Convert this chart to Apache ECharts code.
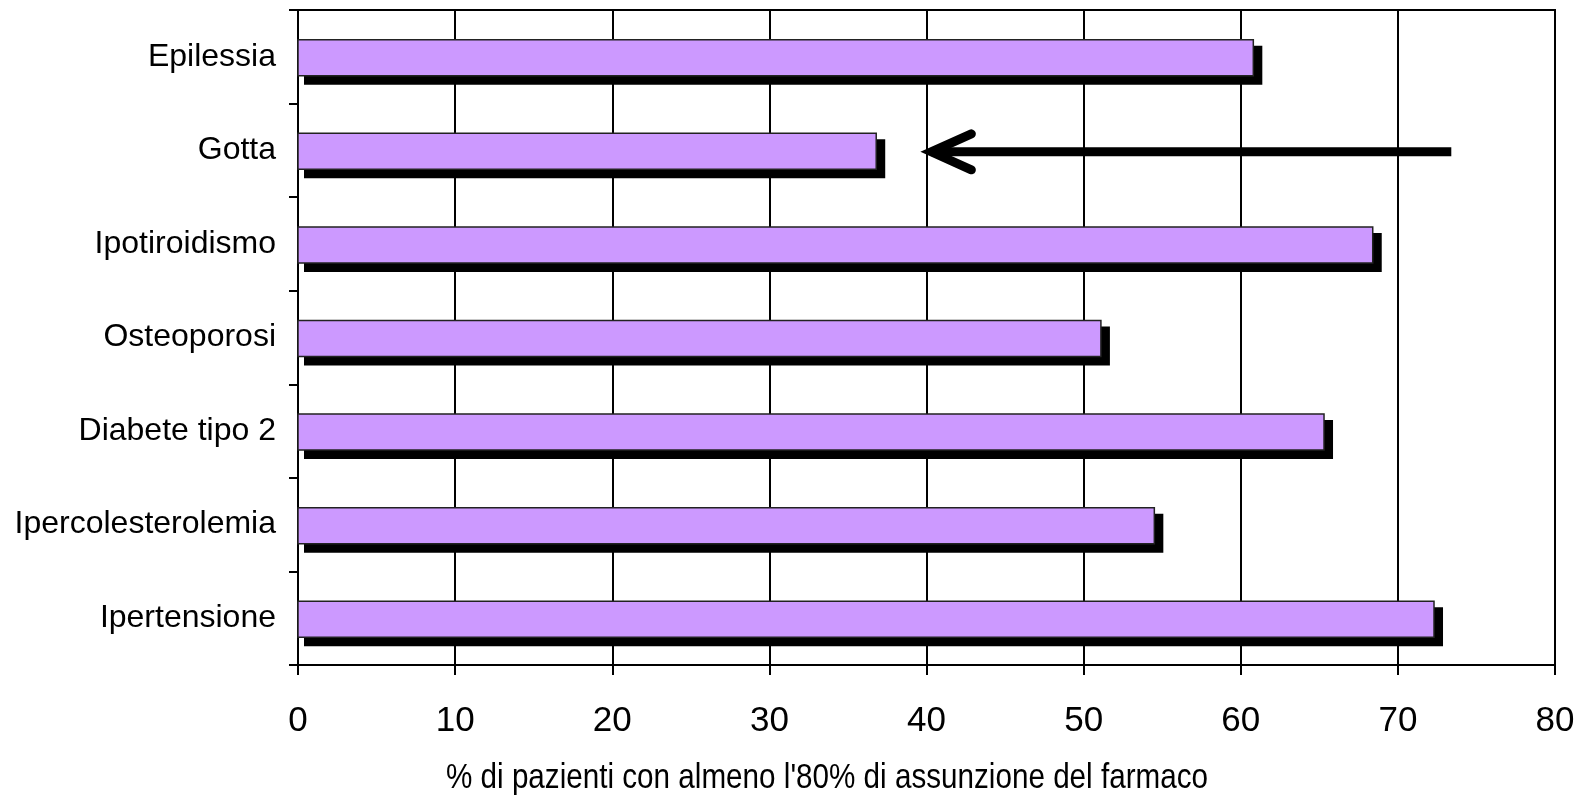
<!DOCTYPE html>
<html>
<head>
<meta charset="utf-8">
<script src="https://cdn.jsdelivr.net/npm/echarts@6/dist/echarts.min.js"></script>
<style>html,body{margin:0;padding:0;background:#fff}#c{width:1582px;height:797px}</style>
</head>
<body>
<div id="c"></div>
<script>
var categories = ['Ipertensione', 'Ipercolesterolemia', 'Diabete tipo 2', 'Osteoporosi', 'Ipotiroidismo', 'Gotta', 'Epilessia'];
var values = [72.3, 54.5, 65.3, 51.1, 68.4, 36.8, 60.8];
var xTicks = [0, 10, 20, 30, 40, 50, 60, 70, 80];
var arrowFrom = 73.4;
var arrowTo = 39.8;
var arrowCategory = 'Gotta';
var axisTitle = "% di pazienti con almeno l'80% di assunzione del farmaco";

var chart = echarts.init(document.getElementById('c'), null, {renderer: 'canvas'});
var font = 'Liberation Sans, Arial, sans-serif';
var barData = values.map(function (v, i) { return [v, i]; });
chart.setOption({
  animation: false,
  backgroundColor: '#fff',
  grid: {left: 298, right: 27, top: 10, bottom: 132, show: true, borderColor: '#000', borderWidth: 2, containLabel: false},
  xAxis: {
    type: 'value', min: xTicks[0], max: xTicks[xTicks.length - 1], interval: 10,
    axisLine: {show: true, lineStyle: {color: '#000', width: 2}},
    axisTick: {show: true, length: 10, lineStyle: {color: '#000', width: 2}},
    axisLabel: {fontFamily: font, fontSize: 35, color: '#000', margin: 39},
    splitLine: {show: true, lineStyle: {color: '#000', width: 2}}
  },
  yAxis: {
    type: 'category', data: categories,
    axisLine: {show: true, lineStyle: {color: '#000', width: 2}},
    axisTick: {show: true, length: 9, lineStyle: {color: '#000', width: 2}},
    axisLabel: {fontFamily: font, fontSize: 32, color: '#000', margin: 22, padding: [4, 0, 0, 0]},
    splitLine: {show: false}
  },
  graphic: [{
    type: 'text',
    x: 827, y: 778,
    scaleX: 0.847,
    style: {text: axisTitle, font: '35px Liberation Sans, Arial, sans-serif', fill: '#000', textAlign: 'center', textVerticalAlign: 'middle'}
  }],
  series: [{
    type: 'custom',
    data: barData,
    encode: {x: 0, y: 1},
    z: 3,
    renderItem: function (params, api) {
      var start = api.coord([0, api.value(1)]);
      var end = api.coord([api.value(0), api.value(1)]);
      var h = 36;
      var y0 = start[1] - h / 2 + 1;
      var w = end[0] - start[0];
      return {
        type: 'group',
        children: [{
          type: 'rect',
          shape: {x: start[0] + 6, y: y0 + 6, width: w + 3, height: h + 3},
          style: {fill: '#000'}
        }, {
          type: 'rect',
          shape: {x: start[0], y: y0, width: w, height: h},
          style: {fill: '#CC99FF', stroke: '#222', lineWidth: 1.5}
        }]
      };
    }
  }, {
    type: 'custom',
    data: [[arrowFrom, arrowTo, categories.indexOf(arrowCategory)]],
    encode: {x: [0, 1], y: 2},
    z: 5,
    renderItem: function (params, api) {
      var s = api.coord([api.value(0), api.value(2)]);
      var e = api.coord([api.value(1), api.value(2)]);
      var cy = s[1] + 1.5;
      var tipX = e[0] + 8;
      return {
        type: 'group',
        children: [{
          type: 'line',
          shape: {x1: s[0], y1: cy, x2: tipX, y2: cy},
          style: {stroke: '#000', lineWidth: 9, lineCap: 'butt'}
        }, {
          type: 'polyline',
          shape: {points: [[tipX + 40, cy - 18], [tipX, cy], [tipX + 40, cy + 18]]},
          style: {stroke: '#000', fill: null, lineWidth: 9, lineCap: 'round', lineJoin: 'miter'}
        }]
      };
    }
  }]
});
</script>
</body>
</html>
